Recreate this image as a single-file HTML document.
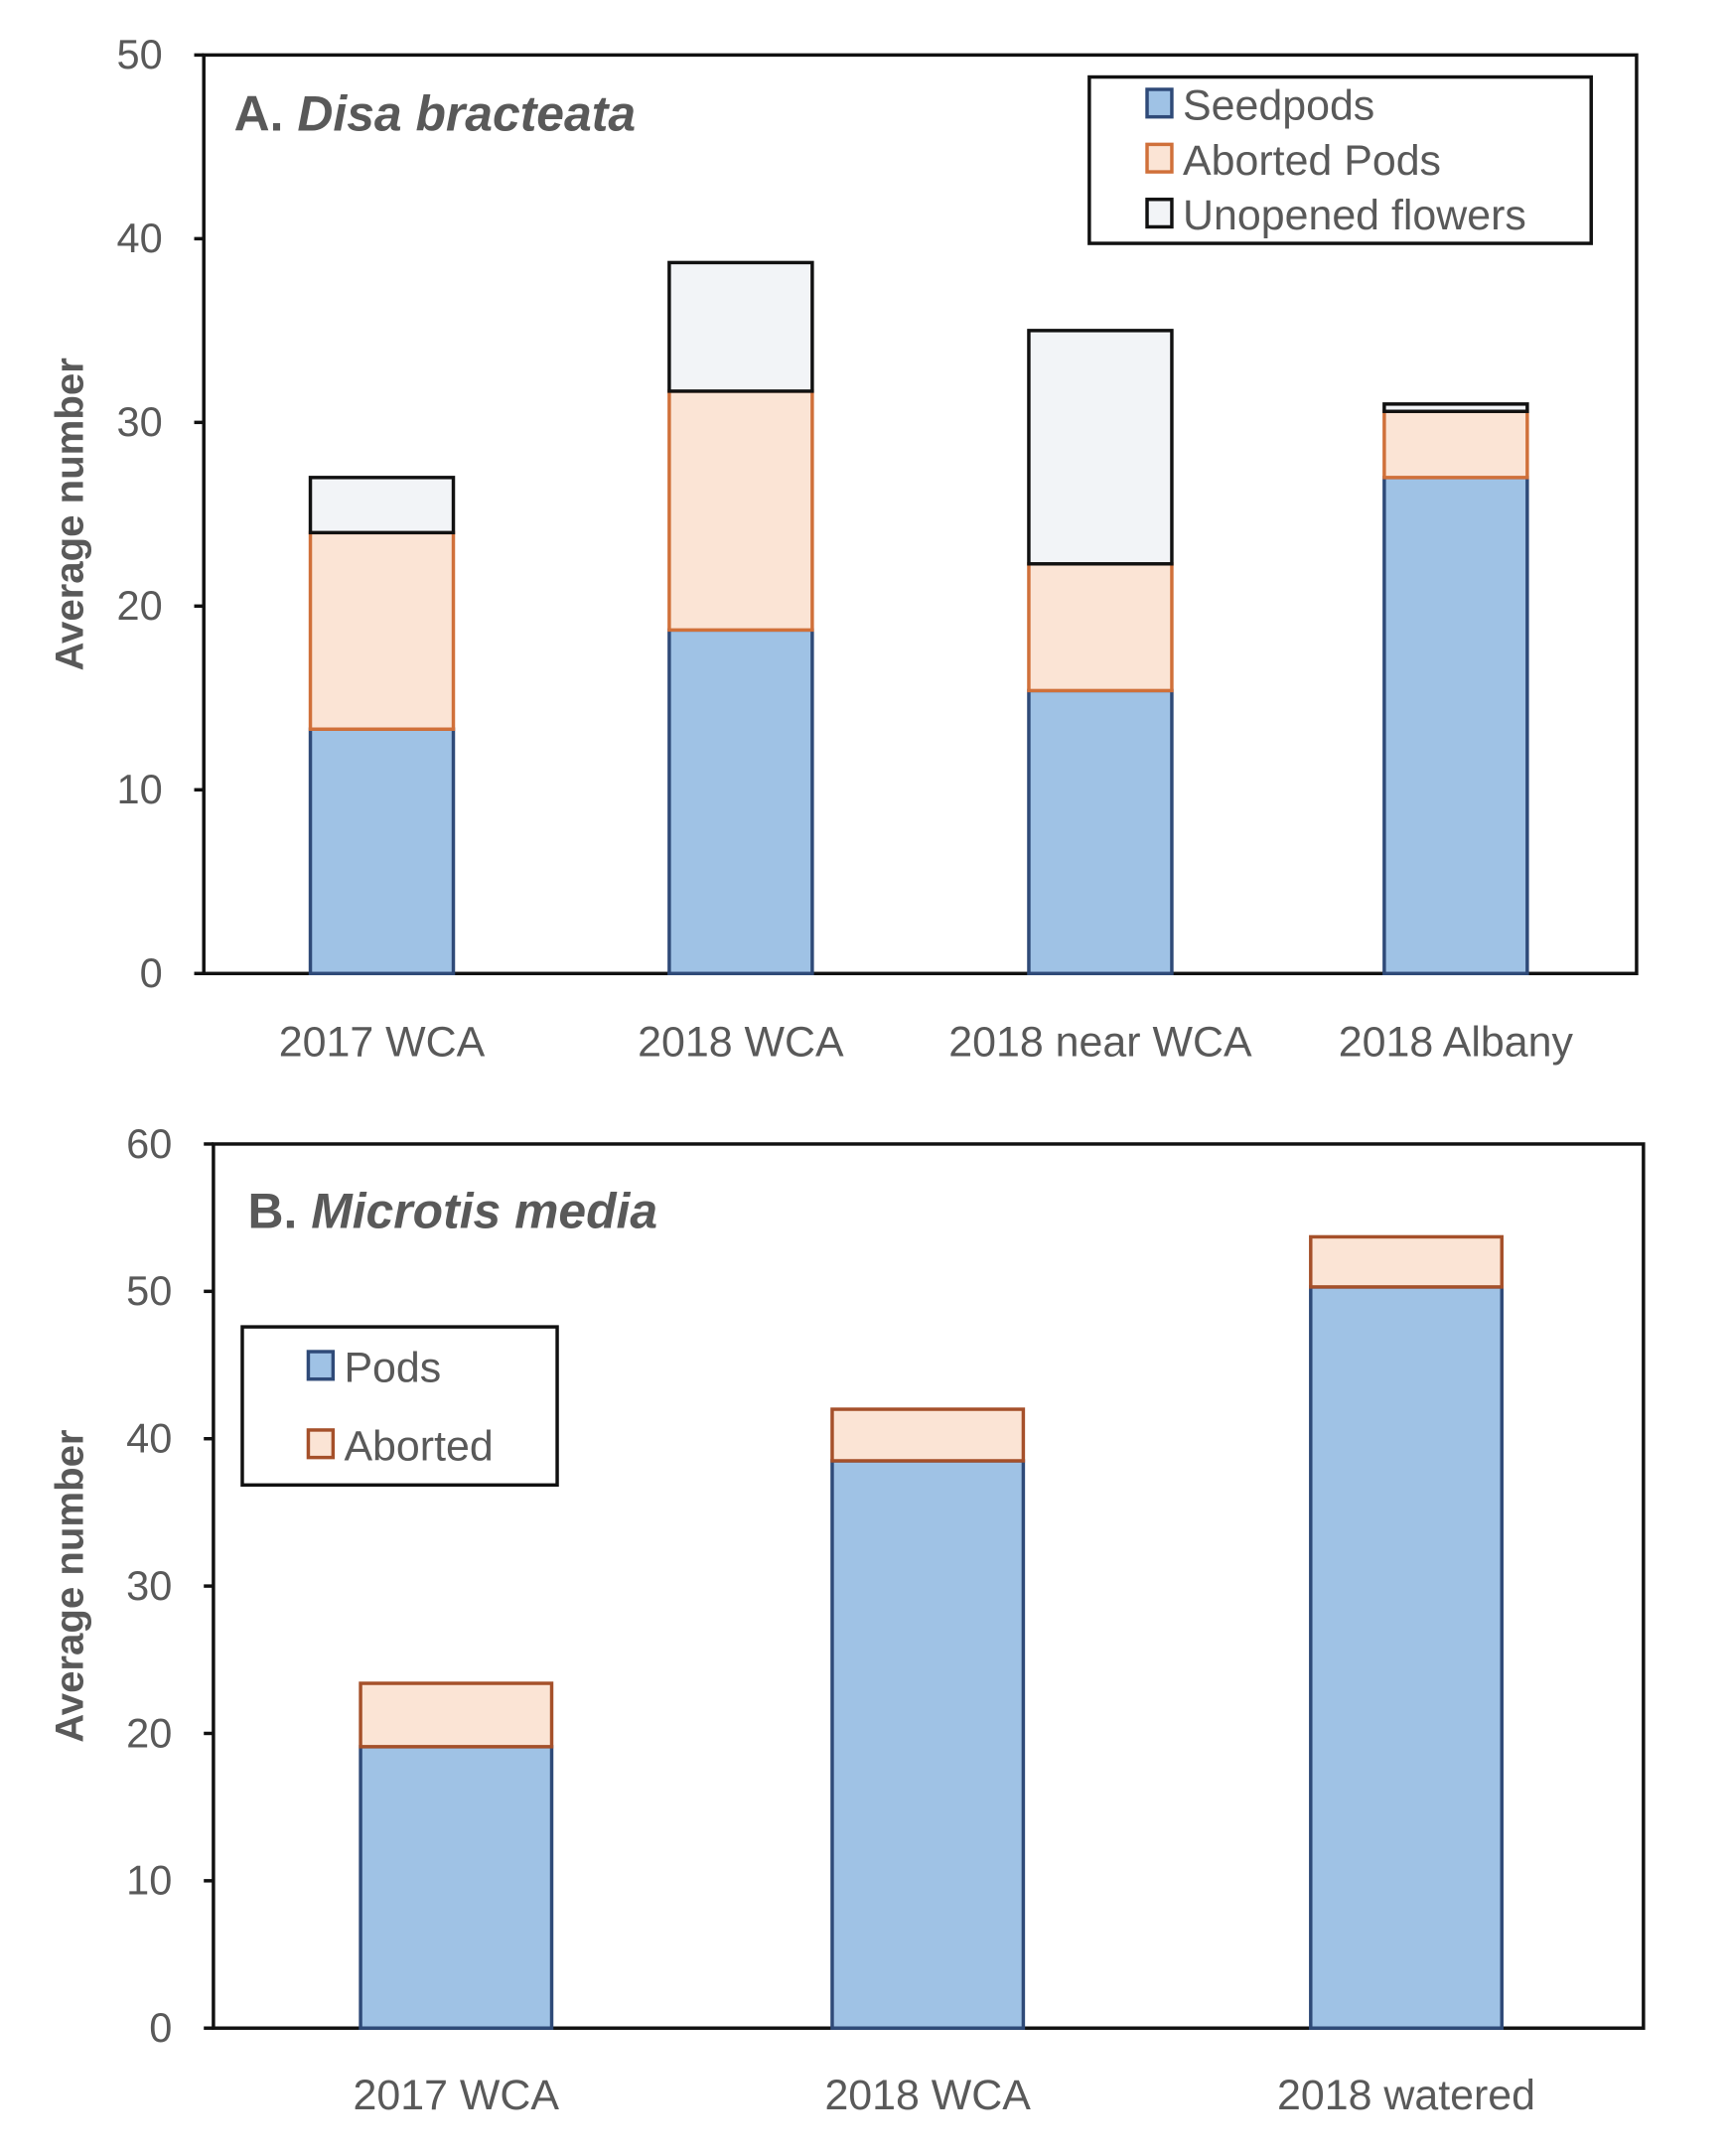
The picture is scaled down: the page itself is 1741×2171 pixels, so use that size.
<!DOCTYPE html>
<html><head><meta charset="utf-8"><style>
html,body{margin:0;padding:0;background:#fff;}
svg{display:block;font-family:"Liberation Sans Narrow","Liberation Sans",sans-serif;}
</style></head><body>
<svg id="fig" width="1741" height="2171" viewBox="0 0 1257 1568" xmlns="http://www.w3.org/2000/svg"></svg>
<script>
// Panel A data
const catsA = ["2017 WCA","2018 WCA","2018 near WCA","2018 Albany"];
const seedpodsA = [13.3,18.7,15.4,27.0];
const abortedA = [10.7,13.0,6.9,3.6];
const unopenedA = [3.0,7.0,12.7,0.4];
const ticksA = [0,10,20,30,40,50];
// Panel B data
const catsB = ["2017 WCA","2018 WCA","2018 watered"];
const podsB = [19.1,38.5,50.3];
const abortedB = [4.3,3.5,3.4];
const ticksB = [0,10,20,30,40,50,60];

const NS="http://www.w3.org/2000/svg";
const svg=document.getElementById('fig');
function mk(tag,attrs,parent){const e=document.createElementNS(NS,tag);for(const k in attrs)e.setAttribute(k,attrs[k]);(parent||svg).appendChild(e);return e;}
const GREY="#595959";

function panel(cfg){
  const g=mk('g',{});
  
  
  const y=v=>cfg.bottom-(v/cfg.max)*(cfg.bottom-cfg.top);
  const x=i=>cfg.centers[i];
  const fr=mk('rect',{x:cfg.left,y:cfg.top,width:cfg.right-cfg.left,height:cfg.bottom-cfg.top,fill:'none',stroke:'#111','stroke-width':2.5},g);
  
  
  cfg.ticks.forEach(t=>{
    const l=mk('line',{x1:cfg.left-7,x2:cfg.left,y1:y(t),y2:y(t),stroke:'#111','stroke-width':2.5},g);
    
    
    const tx=mk('text',{x:cfg.left-30,y:y(t)+10,'text-anchor':'end','font-size':30,fill:GREY},g);
    tx.textContent=t;
    
    
  });
  cfg.cats.forEach((c,i)=>{
    let base=0;
    cfg.series.forEach(s=>{
      const v=s.vals[i];
      const r=mk('rect',{x:x(i)-cfg.bw/2,y:y(base+v),width:cfg.bw,height:y(base)-y(base+v),fill:s.fill,stroke:s.stroke,'stroke-width':2.5},g);
      
      
      base+=v;
    });
    const lt=mk('text',{x:x(i),y:cfg.labY,'text-anchor':'middle','font-size':31,fill:GREY},g);
    lt.textContent=c;
    
    
  });
  const yt=mk('text',{x:0,y:0,transform:`translate(60,${(cfg.top+cfg.bottom)/2}) rotate(-90)`,'text-anchor':'middle','font-size':29,'font-weight':'bold',fill:GREY},g);
  yt.textContent='Average number';
  
  
  const pt=mk('text',{x:cfg.titleX,y:cfg.titleY,'font-size':36,'font-weight':'bold',fill:GREY},g);
  pt.innerHTML=cfg.titleA+' <tspan font-style="italic">'+cfg.titleB+'</tspan>';
  
  
  const lg=mk('g',{},g);
  
  
  const L=cfg.legend;
  mk('rect',{x:L.x,y:L.y,width:L.w,height:L.h,fill:'#fff',stroke:'#111','stroke-width':2.5},lg);
  cfg.series.forEach((s,k)=>{
    const ey=L.y0+k*L.dy;
    const sw=mk('rect',{x:L.sx,y:ey-17,width:18,height:20,fill:s.fill,stroke:s.stroke,'stroke-width':2.5},lg);
    
    
    const t=mk('text',{x:L.sx+26,y:ey+5,'font-size':31,fill:GREY},lg);
    t.textContent=s.label;
    
    
  });
}

panel({name:'panel-a-disa-bracteata',cats:catsA,max:50,ticks:ticksA,left:148,right:1190,top:40,bottom:708,bw:104,
  centers:[277.5,538.5,800,1058.5],labY:768,titleX:170,titleY:95,titleA:'A.',titleB:'Disa bracteata',
  series:[{key:'seedpods',label:'Seedpods',vals:seedpodsA,fill:'#9fc2e5',stroke:'#2f4a78'},
          {key:'aborted-pods',label:'Aborted Pods',vals:abortedA,fill:'#fbe4d5',stroke:'#d0703a'},
          {key:'unopened-flowers',label:'Unopened flowers',vals:unopenedA,fill:'#f2f4f7',stroke:'#111'}],
  legend:{x:792,y:56,w:365,h:121,sx:834,y0:82,dy:40}});

panel({name:'panel-b-microtis-media',cats:catsB,max:60,ticks:ticksB,left:155,right:1195,top:832,bottom:1475,bw:139,
  centers:[331.5,674.5,1022.5],labY:1534,titleX:180,titleY:893,titleA:'B.',titleB:'Microtis media',
  series:[{key:'pods',label:'Pods',vals:podsB,fill:'#9fc2e5',stroke:'#2f4a78'},
          {key:'aborted',label:'Aborted',vals:abortedB,fill:'#fbe4d5',stroke:'#a5502a'}],
  legend:{x:176,y:965,w:229,h:115,sx:224,y0:1000,dy:57}});
</script>
</body></html>
